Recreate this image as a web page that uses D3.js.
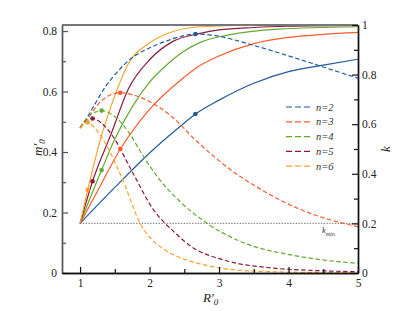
<!DOCTYPE html>
<html>
<head>
<meta charset="utf-8">
<script src="https://cdn.jsdelivr.net/npm/d3@7"></script>
<style>
  body { margin: 0; background: #fff; }
  svg { display: block; }
  svg text { font-family: "Liberation Serif", "DejaVu Serif", serif !important; }
</style>
</head>
<body>
<svg id="chart" width="415" height="311"></svg>
<script>
// series labels and colours
const seriesNames = ["n=2", "n=3", "n=4", "n=5", "n=6"];
const seriesColors = ["#1f5c9e", "#ff5a2e", "#62ab2f", "#8c1a3c", "#ffa12e"];

// m'_0 against R'_0 (dashed, left axis)
const m2 = [[1, 0.48], [1.08, 0.506], [1.2, 0.553], [1.365, 0.616], [1.5, 0.655], [1.654, 0.693], [1.8, 0.72], [1.99, 0.743], [2.28, 0.77], [2.66, 0.79], [2.95, 0.785], [3.2, 0.772], [3.48, 0.754], [4.0, 0.718], [4.5, 0.681], [5, 0.644]];
const m3 = [[1, 0.48], [1.125, 0.517], [1.32, 0.572], [1.45, 0.59], [1.58, 0.596], [1.75, 0.59], [1.99, 0.568], [2.33, 0.515], [2.66, 0.44], [3.14, 0.346], [3.62, 0.274], [4.1, 0.217], [4.58, 0.177], [5, 0.153]];
const m4 = [[1, 0.48], [1.1, 0.512], [1.2, 0.53], [1.31, 0.537], [1.51, 0.515], [1.7, 0.465], [1.9, 0.39], [2.13, 0.313], [2.43, 0.238], [2.83, 0.164], [3.31, 0.104], [4.03, 0.06], [4.5, 0.043], [5, 0.032]];
const m5 = [[1, 0.48], [1.08, 0.5], [1.18, 0.511], [1.3, 0.497], [1.46, 0.456], [1.75, 0.335], [2.04, 0.215], [2.38, 0.13], [2.59, 0.089], [3.07, 0.043], [3.79, 0.016], [4.4, 0.008], [5, 0.004]];
const m6 = [[1, 0.478], [1.05, 0.492], [1.11, 0.498], [1.2, 0.482], [1.36, 0.43], [1.61, 0.31], [1.87, 0.162], [2.18, 0.082], [2.35, 0.06], [2.73, 0.03], [3.31, 0.009], [4, 0.003], [5, 0.001]];

// k against R'_0 (solid, right axis)
const k2 = [[1, 0.2], [1.5, 0.345], [2, 0.484], [2.5, 0.605], [2.66, 0.641], [3, 0.697], [3.5, 0.765], [4, 0.812], [4.5, 0.838], [5, 0.862]];
const k3 = [[1, 0.2], [1.25, 0.33], [1.58, 0.5], [2, 0.66], [2.5, 0.79], [2.66, 0.825], [3, 0.875], [3.5, 0.925], [4, 0.95], [4.5, 0.962], [5, 0.97]];
const k4 = [[1, 0.2], [1.31, 0.415], [1.5, 0.54], [1.75, 0.67], [2, 0.77], [2.25, 0.84], [2.5, 0.895], [2.73, 0.93], [3.14, 0.96], [3.86, 0.983], [5, 0.993]];
const k5 = [[1, 0.2], [1.18, 0.37], [1.44, 0.556], [1.7, 0.745], [2, 0.86], [2.33, 0.933], [2.73, 0.966], [3, 0.98], [3.5, 0.99], [4, 0.995], [5, 0.998]];
const k6 = [[1, 0.2], [1.11, 0.335], [1.29, 0.536], [1.46, 0.684], [1.7, 0.846], [1.99, 0.926], [2.33, 0.973], [2.73, 0.993], [3.5, 0.999], [5, 1.0]];

// marked points (peak of each m'_0 curve and matching k)
const markR = [2.66, 1.58, 1.31, 1.18, 1.11];
const markM = [0.79, 0.596, 0.537, 0.511, 0.498];
const markK = [0.641, 0.5, 0.415, 0.37, 0.335];

const kMin = 0.2;
const xTicks = [1, 2, 3, 4, 5];
const xMinor = [1.5, 2.5, 3.5, 4.5];
const mTicks = [0, 0.2, 0.4, 0.6, 0.8];
const mMinor = [0.1, 0.3, 0.5, 0.7];
const kTicks = [0, 0.2, 0.4, 0.6, 0.8, 1];
const kMinor = [0.1, 0.3, 0.5, 0.7, 0.9];

const mData = [m2, m3, m4, m5, m6];
const kData = [k2, k3, k4, k5, k6];

const pLeft = 62, pRight = 358, pTop = 25, pBottom = 273;
const svg = d3.select("#chart");

const x = d3.scaleLinear().domain([0.74, 5]).range([pLeft, pRight]);
const yM = d3.scaleLinear().domain([0, 0.82]).range([pBottom, pTop]);
const yK = d3.scaleLinear().domain([0, 1]).range([pBottom, pTop]);

svg.append("clipPath").attr("id", "plot")
  .append("rect").attr("x", pLeft).attr("y", pTop - 2).attr("width", pRight - pLeft).attr("height", pBottom - pTop + 2);

const plot = svg.append("g").attr("clip-path", "url(#plot)");

// k_min dotted line
plot.append("line")
  .attr("x1", x(1)).attr("x2", x(5))
  .attr("y1", yK(kMin)).attr("y2", yK(kMin))
  .attr("stroke", "#8a8a8a").attr("stroke-width", 1.3)
  .attr("stroke-dasharray", "1.4,1.4");

svg.append("text")
  .attr("x", 322).attr("y", 233)
  .attr("font-size", 8.5).attr("font-style", "italic").attr("fill", "#333")
  .text("k")
  .append("tspan").attr("dy", 3).attr("font-size", 6).text("min");

const lineM = d3.line().x(d => x(d[0])).y(d => yM(d[1])).curve(d3.curveMonotoneX);
const lineK = d3.line().x(d => x(d[0])).y(d => yK(d[1])).curve(d3.curveMonotoneX);

kData.forEach((s, i) => {
  plot.append("path").attr("d", lineK(s))
    .attr("fill", "none").attr("stroke", seriesColors[i]).attr("stroke-width", 1.2);
});

mData.forEach((s, i) => {
  plot.append("path").attr("d", lineM(s))
    .attr("fill", "none").attr("stroke", seriesColors[i]).attr("stroke-width", 1.2)
    .attr("stroke-dasharray", "4.5,2.5");
});

markR.forEach((r, i) => {
  plot.append("circle").attr("cx", x(r)).attr("cy", yM(markM[i])).attr("r", 2.3).attr("fill", seriesColors[i]);
  plot.append("circle").attr("cx", x(r)).attr("cy", yK(markK[i])).attr("r", 2.3).attr("fill", seriesColors[i]);
});

// frame
svg.append("line").attr("x1", pLeft).attr("x2", pRight).attr("y1", pTop).attr("y2", pTop)
  .attr("stroke", "#777").attr("stroke-width", 1.8);

function styleAxis(g, color) {
  g.attr("font-family", null);
  g.select(".domain").attr("stroke", color).attr("stroke-width", 1.4);
  g.selectAll(".tick line").attr("stroke", color).attr("stroke-width", 1.2);
  g.selectAll("text").attr("font-size", 11.5).attr("fill", "#222");
}

const fmt = d => d === 0 ? "0" : d3.format("~g")(d);

// left axis
const gL = svg.append("g").attr("transform", `translate(${pLeft},0)`)
  .call(d3.axisLeft(yM).tickValues(mTicks).tickFormat(fmt).tickSizeInner(-6).tickSizeOuter(0).tickPadding(5));
styleAxis(gL, "#555");
const gLm = svg.append("g").attr("transform", `translate(${pLeft},0)`)
  .call(d3.axisLeft(yM).tickValues(mMinor).tickFormat("").tickSizeInner(-4).tickSizeOuter(0));
styleAxis(gLm, "#555");

// right axis
const gR = svg.append("g").attr("transform", `translate(${pRight},0)`)
  .call(d3.axisRight(yK).tickValues(kTicks).tickFormat(fmt).tickSizeInner(-6).tickSizeOuter(0).tickPadding(4));
styleAxis(gR, "#111");
const gRm = svg.append("g").attr("transform", `translate(${pRight},0)`)
  .call(d3.axisRight(yK).tickValues(kMinor).tickFormat("").tickSizeInner(-4).tickSizeOuter(0));
styleAxis(gRm, "#111");

// bottom axis
const gB = svg.append("g").attr("transform", `translate(0,${pBottom})`)
  .call(d3.axisBottom(x).tickValues(xTicks).tickFormat(d3.format("d")).tickSizeInner(-6).tickSizeOuter(0).tickPadding(6));
styleAxis(gB, "#111");
const gBm = svg.append("g").attr("transform", `translate(0,${pBottom})`)
  .call(d3.axisBottom(x).tickValues(xMinor).tickFormat("").tickSizeInner(-4).tickSizeOuter(0));
styleAxis(gBm, "#111");

// axis titles
svg.append("text").attr("x", 203).attr("y", 302)
  .attr("font-size", 13).attr("font-style", "italic").attr("fill", "#222")
  .text("R′")
  .append("tspan").attr("dy", 3).attr("font-size", 9).text("0");

svg.append("text").attr("transform", "translate(42,156) rotate(-90)")
  .attr("font-size", 13).attr("font-style", "italic").attr("fill", "#222")
  .text("m′")
  .append("tspan").attr("dy", 3).attr("font-size", 9).text("0");

svg.append("text").attr("transform", "translate(390,152) rotate(-90)")
  .attr("font-size", 13).attr("font-style", "italic").attr("fill", "#222")
  .text("k");

// legend
const legend = svg.append("g");
seriesNames.forEach((name, i) => {
  const y = 107 + i * 14.8;
  legend.append("line").attr("x1", 286).attr("x2", 311).attr("y1", y).attr("y2", y)
    .attr("stroke", seriesColors[i]).attr("stroke-width", 1.2).attr("stroke-dasharray", "6,3");
  legend.append("text").attr("x", 316).attr("y", y + 3.5)
    .attr("font-size", 10.5).attr("font-style", "italic").attr("fill", "#333")
    .text(name);
});
</script>
</body>
</html>
